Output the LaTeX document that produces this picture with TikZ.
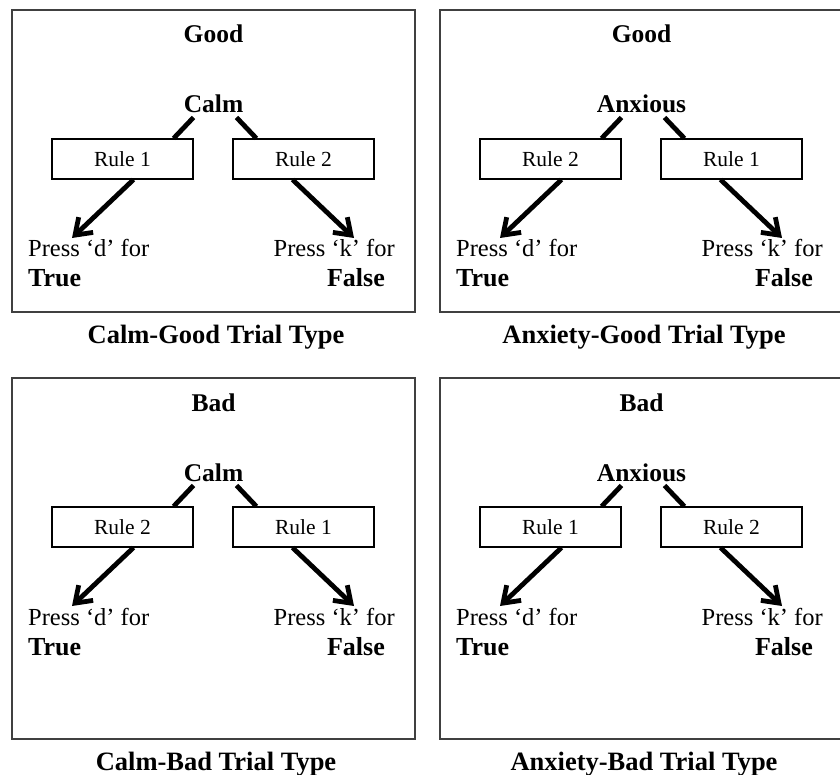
\documentclass[tikz,border=0pt]{standalone}
\usepackage{fontspec}
\setmainfont{Liberation Serif}
\usetikzlibrary{arrows.meta,calc}

\begin{document}
\begin{tikzpicture}[x=1pt,y=-1pt,
    every node/.style={inner sep=0pt},
    frame/.style={draw=black!75,line width=1.6pt},
    rulebox/.style={draw,line width=1.2pt,minimum width=141pt,minimum height=40pt,font=\fontsize{21.5}{25}\selectfont},
    word/.style={anchor=base,font=\fontsize{25.5}{29}\selectfont\bfseries},
    press/.style={font=\fontsize{24.5}{28}\selectfont},
    answer/.style={font=\fontsize{26}{30}\selectfont\bfseries},
    caption/.style={anchor=base,font=\fontsize{26.5}{30}\selectfont\bfseries},
    link/.style={line width=4.8pt},
    arr/.style={-{Straight Barb[length=15pt,width=21pt]},line width=4.8pt}
  ]
  \useasboundingbox (0,0) rectangle (840,775);
  \foreach \px/\py/\bot/\val/\emo/\ra/\rb/\cap [count=\i] in {
      0/0/312/Good/Calm/1/2/Calm-Good Trial Type,
      428/0/312/Good/Anxious/2/1/Anxiety-Good Trial Type,
      0/368/371/Bad/Calm/2/1/Calm-Bad Trial Type,
      428/368/371/Bad/Anxious/1/2/Anxiety-Bad Trial Type}{
    \begin{scope}[shift={(\px,\py)},name prefix=p\i-]
      \draw[frame] (12,10) rectangle (415,\bot);
      \node[word] (val) at (213.5,43) {\val};
      \node[word] (emo) at (213.5,113) {\emo};
      \node[rulebox] (ra) at (122.5,159) {Rule \ra};
      \node[rulebox] (rb) at (303.5,159) {Rule \rb};
      \node[press,anchor=base west] (pd) at (28,257) {Press ‘d’ for};
      \node[press,anchor=base east] (pk) at (395,257) {Press ‘k’ for};
      \node[answer,anchor=base west] (yes) at (28,287) {True};
      \node[answer,anchor=base east] (no) at (385,287) {False};
      \node[caption] (cap) at (216,\bot+31) {\cap};
      \coordinate (dtip) at (72,238);
      \coordinate (ktip) at (354,238);
      % links from the emotion word to the rules
      \draw[link] ($(emo.south)+(-20,4)$) -- ($(ra.north east)+(-20,0)$);
      \draw[link] ($(emo.south)+(23,4)$) -- ($(rb.north west)+(24,0)$);
      % responses
      \draw[arr] ($(ra.south)+(11,0)$) -- (dtip);
      \draw[arr] ($(rb.south)+(-11,0)$) -- (ktip);
    \end{scope}
  }
\end{tikzpicture}
\end{document}
